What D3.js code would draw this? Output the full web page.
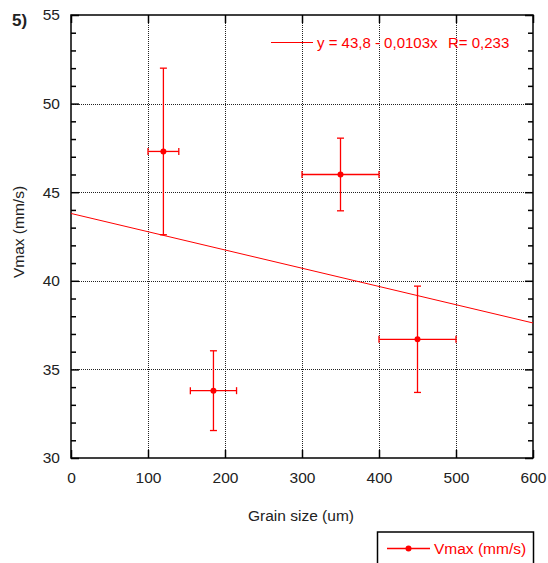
<!DOCTYPE html>
<html>
<head>
<meta charset="utf-8">
<script src="https://cdn.jsdelivr.net/npm/d3@7"></script>
<style>
  html, body { margin: 0; padding: 0; background: #fff; }
  svg { display: block; font-family: "Liberation Sans", Arial, sans-serif; }
</style>
</head>
<body>
<svg id="chart" width="548" height="563"></svg>
<script>
// Grain size (um) vs maximum velocity (mm/s), with error bars
const grainSize = [120, 350, 185, 450];
const grainErr  = [20, 50, 30, 50];
const vmax      = [47.3, 46.0, 33.8, 36.7];
const vmaxErr   = [4.7, 2.05, 2.25, 3.0];

const xTicks = [0, 100, 200, 300, 400, 500, 600];
const yTicks = [30, 35, 40, 45, 50, 55];

// Linear fit y = a + b x
const fitA = 43.8, fitB = -0.0103;
const fitEq = "y = 43,8 - 0,0103x";
const fitR = "R= 0,233";
const seriesLabel = "Vmax (mm/s)";

const red = "#ff0000";
const fs = 15.5;
const svg = d3.select("#chart");
const L = 71, R = 533, T = 15, B = 458;

const x = d3.scaleLinear().domain([0, 600]).range([L, R]);
const y = d3.scaleLinear().domain([30, 55]).range([B, T]);

// grid
const grid = svg.append("g").attr("stroke", "#222").attr("stroke-width", 1)
  .attr("stroke-dasharray", "1,1");
xTicks.slice(1, -1).forEach(v => grid.append("line")
  .attr("x1", Math.round(x(v)) + 0.5).attr("x2", Math.round(x(v)) + 0.5)
  .attr("y1", T).attr("y2", B));
yTicks.slice(1, -1).forEach(v => grid.append("line")
  .attr("x1", L).attr("x2", R)
  .attr("y1", Math.round(y(v)) + 0.5).attr("y2", Math.round(y(v)) + 0.5));

// axes: ticks inside the frame
const axisStyle = g => {
  g.select(".domain").remove();
  g.selectAll("line").attr("stroke", "#000").attr("stroke-width", 1.5);
  g.selectAll("text").attr("fill", "#222").attr("font-size", fs)
    .attr("font-family", "'Liberation Sans', Arial, sans-serif");
};
svg.append("g").attr("transform", `translate(0,${B})`)
  .call(d3.axisBottom(x).tickValues(xTicks).tickSizeInner(-8).tickSizeOuter(0).tickPadding(14))
  .call(axisStyle);
svg.append("g").attr("transform", `translate(0,${T})`)
  .call(d3.axisTop(x).tickValues(xTicks).tickSizeInner(-8).tickSizeOuter(0).tickFormat(""))
  .call(axisStyle);
svg.append("g").attr("transform", `translate(${L},0)`)
  .call(d3.axisLeft(y).tickValues(yTicks).tickSizeInner(-8).tickSizeOuter(0).tickPadding(11))
  .call(axisStyle);
svg.append("g").attr("transform", `translate(${R},0)`)
  .call(d3.axisRight(y).tickValues(yTicks).tickSizeInner(-8).tickSizeOuter(0).tickFormat(""))
  .call(axisStyle);
// minor y ticks
const minor = d3.range(31, 55).filter(v => v % 5 !== 0);
svg.append("g").attr("transform", `translate(${L},0)`)
  .call(d3.axisLeft(y).tickValues(minor).tickSizeInner(-5).tickSizeOuter(0).tickFormat(""))
  .call(axisStyle);
svg.append("g").attr("transform", `translate(${R},0)`)
  .call(d3.axisRight(y).tickValues(minor).tickSizeInner(-5).tickSizeOuter(0).tickFormat(""))
  .call(axisStyle);

// frame
svg.append("rect").attr("x", L).attr("y", T).attr("width", R - L).attr("height", B - T)
  .attr("fill", "none").attr("stroke", "#000").attr("stroke-width", 1.5);

// fit line
const fitLine = d3.line().x(d => x(d)).y(d => y(fitA + fitB * d));
svg.append("path").datum([0, 600]).attr("d", fitLine)
  .attr("fill", "none").attr("stroke", red).attr("stroke-width", 1);

// error bars and points
const pts = grainSize.map((g, i) => ({ g, ge: grainErr[i], v: vmax[i], ve: vmaxErr[i] }));
const eb = svg.append("g").attr("stroke", red).attr("stroke-width", 1.3);
const cap = 3.5;
pts.forEach(p => {
  eb.append("line").attr("x1", x(p.g)).attr("x2", x(p.g)).attr("y1", y(p.v - p.ve)).attr("y2", y(p.v + p.ve));
  eb.append("line").attr("x1", x(p.g) - cap).attr("x2", x(p.g) + cap).attr("y1", y(p.v + p.ve)).attr("y2", y(p.v + p.ve));
  eb.append("line").attr("x1", x(p.g) - cap).attr("x2", x(p.g) + cap).attr("y1", y(p.v - p.ve)).attr("y2", y(p.v - p.ve));
  eb.append("line").attr("x1", x(p.g - p.ge)).attr("x2", x(p.g + p.ge)).attr("y1", y(p.v)).attr("y2", y(p.v));
  eb.append("line").attr("x1", x(p.g - p.ge)).attr("x2", x(p.g - p.ge)).attr("y1", y(p.v) - cap).attr("y2", y(p.v) + cap);
  eb.append("line").attr("x1", x(p.g + p.ge)).attr("x2", x(p.g + p.ge)).attr("y1", y(p.v) - cap).attr("y2", y(p.v) + cap);
});
svg.append("g").selectAll("circle").data(pts).join("circle")
  .attr("cx", d => x(d.g)).attr("cy", d => y(d.v)).attr("r", 3).attr("fill", red);

// fit legend
svg.append("line").attr("x1", 271).attr("x2", 313).attr("y1", 42.5).attr("y2", 42.5)
  .attr("stroke", red).attr("stroke-width", 1);
svg.append("text").attr("x", 317).attr("y", 47.5).attr("fill", red).attr("font-size", 15).text(fitEq);
svg.append("text").attr("x", 448).attr("y", 47.5).attr("fill", red).attr("font-size", 15).text(fitR);

// axis titles
svg.append("text").attr("x", 301).attr("y", 521).attr("text-anchor", "middle")
  .attr("fill", "#222").attr("font-size", fs).text("Grain size (um)");
svg.append("text").attr("transform", "translate(24,232) rotate(-90)").attr("text-anchor", "middle")
  .attr("fill", "#222").attr("font-size", fs).text("Vmax (mm/s)");
svg.append("text").attr("x", 12).attr("y", 26).attr("fill", "#222").attr("font-size", 17)
  .attr("font-weight", "bold").text("5)");

// series legend box
svg.append("rect").attr("x", 377.5).attr("y", 532).attr("width", 156).attr("height", 40)
  .attr("fill", "#fff").attr("stroke", "#000").attr("stroke-width", 1.5);
svg.append("line").attr("x1", 387).attr("x2", 430).attr("y1", 548.5).attr("y2", 548.5)
  .attr("stroke", red).attr("stroke-width", 1.3);
svg.append("circle").attr("cx", 408.5).attr("cy", 548.5).attr("r", 3).attr("fill", red);
svg.append("text").attr("x", 434).attr("y", 554).attr("fill", red).attr("font-size", fs).text(seriesLabel);
</script>
</body>
</html>
